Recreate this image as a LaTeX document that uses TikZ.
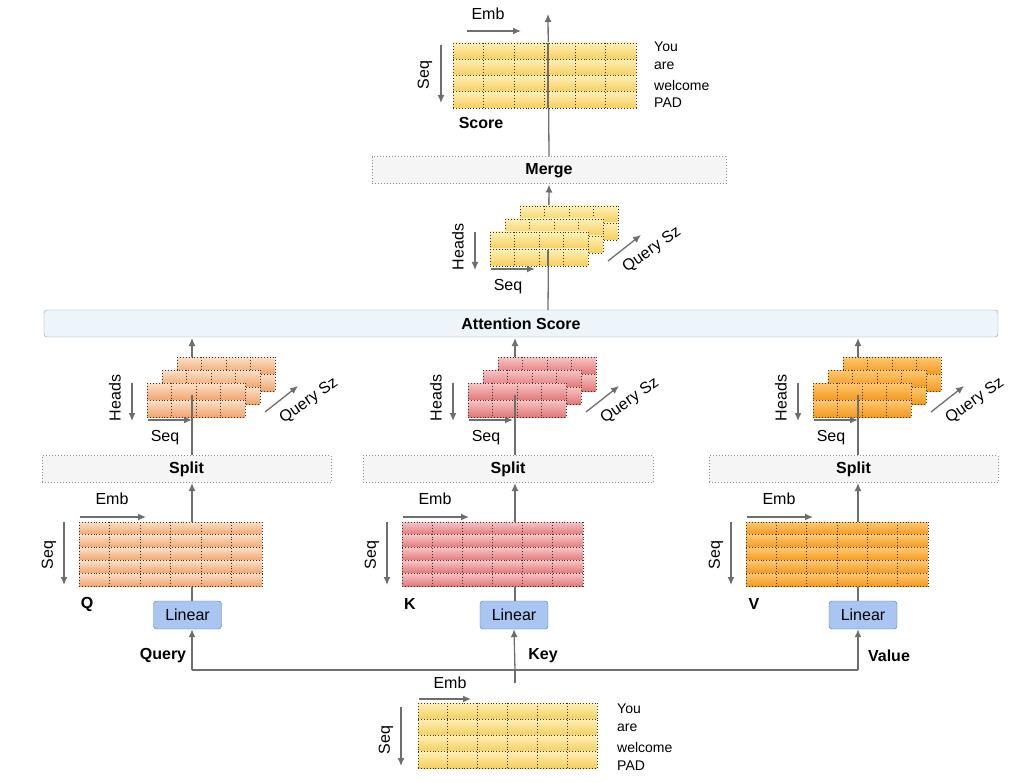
\documentclass[tikz,border=0pt]{standalone}
\usepackage{fontspec}
\setmainfont{Liberation Sans}
\usetikzlibrary{arrows.meta}
\begin{document}
\definecolor{ln}{HTML}{6E6E6E}
\definecolor{qd}{HTML}{F2A56E}\definecolor{ql}{HTML}{FCE0C8}
\definecolor{kd}{HTML}{E27878}\definecolor{kl}{HTML}{F8C4C4}
\definecolor{vd}{HTML}{F39A1E}\definecolor{vl}{HTML}{FFC870}
\definecolor{yd}{HTML}{F6CF5A}\definecolor{yl}{HTML}{FFF0B8}
\definecolor{linf}{HTML}{A9C6F2}\definecolor{lind}{HTML}{4A78B8}
\definecolor{attf}{HTML}{EDF5FA}\definecolor{attd}{HTML}{7E9DB8}
\newcommand{\mymat}[8]{% x y w h rows cols dark light
  \foreach \r in {1,...,#5}{
    \shade[top color=#8,bottom color=#7] ({#1},{#2+(\r-1)*#4/#5}) rectangle ({#1+#3},{#2+\r*#4/#5});
  }
  \foreach \r in {0,...,#5}{\draw[dotted,black!80,line width=0.9pt] ({#1},{#2+\r*#4/#5}) -- ({#1+#3},{#2+\r*#4/#5});}
  \foreach \c in {0,...,#6}{\draw[dotted,black!80,line width=0.9pt] ({#1+\c*#3/#6},{#2}) -- ({#1+\c*#3/#6},{#2+#4});}
}
\newcommand{\mystack}[4]{% x y dark light (front layer top-left)
  \mymat{#1+30}{#2-26}{98}{34}{2}{4}{#3}{#4}
  \mymat{#1+15}{#2-13}{98}{34}{2}{4}{#3}{#4}
  \mymat{#1}{#2}{98}{34}{2}{4}{#3}{#4}
}
\begin{tikzpicture}[x=1pt,y=-1pt,
  ar/.style={draw=ln,line width=1.3pt,-{Latex[length=8pt,width=7pt]}},
  pl/.style={draw=ln,line width=1.3pt},
  bar/.style={draw=black!45,dotted,line width=1pt,fill=black!4,minimum height=27pt,font=\bfseries\fontsize{16}{19}\selectfont,inner sep=0pt},
  lin/.style={draw=lind,fill=linf,rounded corners=3pt,minimum width=68pt,minimum height=28pt,font=\fontsize{16}{19}\selectfont,inner sep=0pt},
  lbl/.style={font=\fontsize{16}{19}\selectfont,inner sep=1pt},
  blbl/.style={font=\bfseries\fontsize{16}{19}\selectfont,inner sep=1pt},
  wd/.style={font=\fontsize{14}{16}\selectfont,anchor=west,inner sep=0pt}]
\useasboundingbox (0,0) rectangle (1030,783);
% bars
\node[bar,minimum width=354pt] (merge) at (549,170.5) {Merge};
\node[draw=attd,fill=attf,rounded corners=3pt,minimum width=954pt,minimum height=27pt,font=\bfseries\fontsize{16}{19}\selectfont,inner sep=0pt] (att) at (521,323.5) {Attention Score};
\node[bar,minimum width=289pt] (sq) at (186.5,469) {Split};
\node[bar,minimum width=290pt] (sk) at (508,469) {Split};
\node[bar,minimum width=289pt] (sv) at (853.5,469) {Split};
\node[lin] (lq) at (187.5,615) {Linear};
\node[lin] (lk) at (514,615) {Linear};
\node[lin] (lv) at (863,615) {Linear};
% coordinates
\coordinate (in) at (515,683);
\coordinate (jq) at (192,670);\coordinate (jv) at (858,670);\coordinate (jk) at (515,670);
\coordinate (top) at (548,14);
% connectors bottom
\draw[pl] (in) -- (jk);
\draw[pl] (jq) -- (jv);
\draw[ar] (jk) -- (lk.south);
\draw[ar] (jq) -- (jq|-lq.south);
\draw[ar] (jv) -- (jv|-lv.south);
\foreach \x in {192,515,858}{
  \draw[pl] (\x,601) -- (\x,586);
  \draw[ar] (\x,522) -- (\x,483);
  \draw[ar] (\x,455) -- (\x,338);
}
\draw[ar] (548,310) -- (merge.south);
\draw[ar] (merge.north) -- (top);
% matrices
\mymat{79}{522}{183}{64}{5}{6}{qd}{ql}
\mymat{402}{522}{181}{64}{5}{6}{kd}{kl}
\mymat{746}{522}{182}{64}{5}{6}{vd}{vl}
\mymat{418}{703}{179}{65}{4}{6}{yd}{yl}
\mymat{453}{43}{183}{65}{4}{6}{yd}{yl}
\mystack{147}{383}{qd}{ql}
\mystack{468}{383}{kd}{kl}
\mystack{813}{383}{vd}{vl}
\mystack{490}{232}{yd}{yl}
\draw[pl] (192,417) -- (192,395);
\draw[pl] (515,417) -- (515,395);
\draw[pl] (858,417) -- (858,395);
\draw[pl] (548,266) -- (548,250);
\draw[pl] (548,108) -- (548,43);
% matrix labels
\foreach \x/\n in {79/Q,402/K,746/V}{
  \draw[ar] (\x+1,517) -- (\x+67,517);
  \node[lbl] at (\x+33,499) {Emb};
  \draw[ar] (\x-15,522) -- (\x-15,585);
  \node[lbl,rotate=90] at (\x-30,555) {Seq};
  \node[blbl] at (\x+8,604) {\n};
}
\node[blbl] at (163,656) {Query};
\node[blbl] at (543,656) {Key};
\node[blbl] at (889,656) {Value};
% input
\draw[ar] (419,699) -- (471,699);
\node[lbl] at (450,683) {Emb};
\draw[ar] (401,707) -- (401,766);
\node[lbl,rotate=90] at (386,740) {Seq};
\node[wd] at (617,709) {You};\node[wd] at (617,728) {are};
\node[wd] at (617,747) {welcome};\node[wd] at (617,766) {PAD};
% score
\draw[ar] (467,31) -- (521,31);
\node[lbl] at (488,14) {Emb};
\draw[ar] (441,45) -- (441,103);
\node[lbl,rotate=90] at (425,75) {Seq};
\node[blbl] at (481,123) {Score};
\node[wd] at (654,47) {You};\node[wd] at (654,66) {are};
\node[wd] at (654,85) {welcome};\node[wd] at (654,103) {PAD};
% stack labels
\foreach \x/\y in {147/383,468/383,813/383,490/232}{
  \draw[ar] (\x-15,\y) -- (\x-15,\y+38);
  \node[lbl,rotate=90] at (\x-32,\y+15) {Heads};
  \draw[ar] (\x+1,\y+37) -- (\x+45,\y+37);
  \node[lbl] at (\x+18,\y+55) {Seq};
  \draw[ar] (\x+118,\y+29) -- (\x+151,\y+3);
  \node[lbl,rotate=35] at (\x+162,\y+18) {Query Sz};
}
\end{tikzpicture}
\end{document}
